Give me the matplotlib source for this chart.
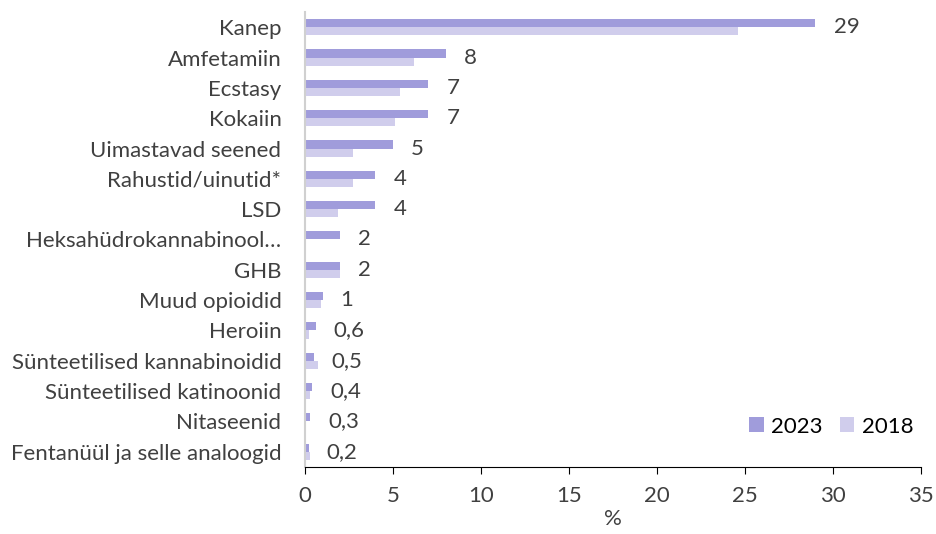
import numpy as np
import matplotlib.pyplot as plt

plt.rcParams['font.family'] = ['Lato', 'DejaVu Sans']

categories = ['Kanep', 'Amfetamiin', 'Ecstasy', 'Kokaiin', 'Uimastavad seened',
              'Rahustid/uinutid*', 'LSD', 'Heksahüdrokannabinool…', 'GHB',
              'Muud opioidid', 'Heroiin', 'Sünteetilised kannabinoidid',
              'Sünteetilised katinoonid', 'Nitaseenid', 'Fentanüül ja selle analoogid']
vals_2023 = [29, 8, 7, 7, 5, 4, 4, 2, 2, 1, 0.6, 0.5, 0.4, 0.3, 0.2]
vals_2018 = [24.6, 6.2, 5.4, 5.1, 2.7, 2.75, 1.9, 0, 2.0, 0.9, 0.23, 0.74, 0.28, 0, 0.28]
labels_2023 = ['29', '8', '7', '7', '5', '4', '4', '2', '2', '1', '0,6', '0,5', '0,4', '0,3', '0,2']

c2023 = '#a09cdb'
c2018 = '#d0cdec'
txt = '#404040'
fs = 16

fig = plt.figure(figsize=(9.37, 5.34), dpi=100)
ax = fig.add_axes([0.3255, 0.1255, 0.6575, 0.852])

y = np.arange(len(categories))
h = 0.265
ax.barh(y - h / 2, vals_2023, height=h, color=c2023, label='2023')
ax.barh(y + h / 2, vals_2018, height=h, color=c2018, label='2018')

for yi, v, lab in zip(y, vals_2023, labels_2023):
    ax.annotate(lab, (v, yi), xytext=(13, 0), textcoords='offset points',
                va='center', ha='left', fontsize=fs, color=txt)

ax.set_ylim(len(categories) - 0.5, -0.5)
ax.set_xlim(0, 35)
ax.set_xticks(range(0, 36, 5))
ax.set_yticks(y)
ax.set_yticklabels(categories, fontsize=fs, color=txt)
ax.tick_params(axis='y', length=0, pad=17)
ax.tick_params(axis='x', direction='out', length=5, color='black', labelsize=fs,
               labelcolor=txt, pad=9)
ax.set_xlabel('%', fontsize=fs, color=txt, labelpad=2)

for s in ['top', 'right']:
    ax.spines[s].set_visible(False)
ax.spines['left'].set_color('#d0d0d0')
ax.spines['left'].set_linewidth(1.5)
ax.spines['bottom'].set_color('black')

ax.legend(loc='lower right', bbox_to_anchor=(1.02, 0.023), ncol=2, frameon=False,
          fontsize=fs, handlelength=0.65, handleheight=0.65, columnspacing=0.75,
          handletextpad=0.35, labelcolor='black')

fig.savefig('out.png', dpi=100)
